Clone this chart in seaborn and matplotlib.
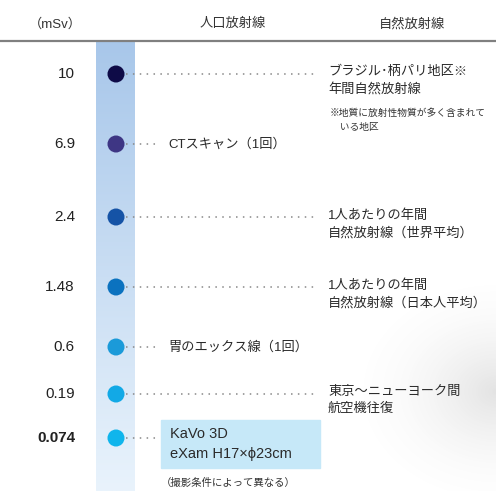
import matplotlib
matplotlib.use("Agg")
import matplotlib.pyplot as plt
import seaborn as sns
import numpy as np
import pandas as pd

# data
doses = [10, 6.9, 2.4, 1.48, 0.6, 0.19, 0.074]
dose_labels = ["10", "6.9", "2.4", "1.48", "0.6", "0.19", "0.074"]
kinds = ["natural", "medical", "natural", "natural", "medical", "natural", "medical"]
labels = ["ブラジル･柄パリ地区※\n年間自然放射線",
          "CTスキャン（1回）",
          "1人あたりの年間\n自然放射線（世界平均）",
          "1人あたりの年間\n自然放射線（日本人平均）",
          "胃のエックス線（1回）",
          "東京～ニューヨーク間\n航空機往復",
          "KaVo 3D\neXam H17×ϕ23cm"]
dot_colors = ["#0e0b47", "#3e3684", "#1553a6", "#0b72bf", "#1b9ad9", "#12a9e6", "#10b5ec"]
headers = ["（mSv）", "人口放射線", "自然放射線"]
note = "※地質に放射性物質が多く含まれて\n　いる地区"
kavo_note = "（撮影条件によって異なる）"

# layout (pixels)
W, H = 496, 491
row_y = [74, 144, 217, 287, 347, 394, 438]
dot_x = 116

sns.set_theme(style="white")
plt.rcParams['font.family'] = ['Liberation Sans', 'Noto Sans CJK JP', 'DejaVu Sans']

fig = plt.figure(figsize=(W / 100, H / 100), dpi=100)
ax = fig.add_axes([0, 0, 1, 1])
ax.set_xlim(0, W)
ax.set_ylim(H, 0)
ax.axis("off")

# blue gradient column
grad = np.linspace(0, 1, 256).reshape(-1, 1)
cmap = matplotlib.colors.LinearSegmentedColormap.from_list("col", ["#a8c7ea", "#e9f3fc"])
ax.imshow(grad, extent=[96, 135, H, 42], aspect="auto", cmap=cmap, zorder=0)

# soft gray shadow bottom right
yy, xx = np.mgrid[0:240, 0:220]
d = np.sqrt(((xx - 220) / 150.0) ** 2 + ((yy - 140) / 120.0) ** 2)
alpha = np.clip(1 - d, 0, 1) ** 1.8 * 0.2
shadow = np.zeros((240, 220, 4))
shadow[..., :3] = 0.45
shadow[..., 3] = alpha
ax.imshow(shadow, extent=[276, 496, 491, 251], aspect="auto", zorder=0.5)

# header
ax.plot([0, W], [41, 41], color="#808080", lw=1.6, zorder=1)
ax.text(55, 24, headers[0], ha="center", va="center", fontsize=9.5, color="#333333")
ax.text(233, 24, headers[1], ha="center", va="center", fontsize=9.5, color="#333333")
ax.text(412, 24, headers[2], ha="center", va="center", fontsize=9.5, color="#333333")

df = pd.DataFrame({"dose": dose_labels, "y": row_y, "x": dot_x, "kind": kinds})

for i, r in df.iterrows():
    ax.text(75, r["y"], dose_labels[i], ha="right", va="center", fontsize=11,
            color="#222222", fontweight="bold" if i == len(doses) - 1 else "normal")
    end = 318 if r["kind"] == "natural" else 157
    ax.plot([126, end], [r["y"], r["y"]], color="#888888", lw=1.1,
            linestyle=(0, (1, 3.5)), zorder=1)
    if r["kind"] == "natural":
        ax.text(328, r["y"] - 8, labels[i], ha="left", va="top", fontsize=9.5,
                color="#2a2a2a", linespacing=1.55)
    elif i == len(doses) - 1:
        ax.add_patch(plt.Rectangle((161, 420), 159, 48, color="#c6e8f8", zorder=1))
        ax.text(170, 444, labels[i], ha="left", va="center", fontsize=10.5,
                color="#2a2a2a", linespacing=1.5, zorder=2)
    else:
        ax.text(168, r["y"], labels[i], ha="left", va="center", fontsize=9.5,
                color="#2a2a2a")

sns.scatterplot(data=df, x="x", y="y", hue="dose",
                palette=dict(zip(dose_labels, dot_colors)), legend=False,
                s=150, ax=ax, zorder=3, linewidth=0)

ax.text(330, 108, note, ha="left", va="top", fontsize=7, color="#333333",
        linespacing=1.5)
ax.text(161, 483, kavo_note, ha="left", va="center", fontsize=7.5, color="#333333")

fig.savefig("out.png", dpi=100)
